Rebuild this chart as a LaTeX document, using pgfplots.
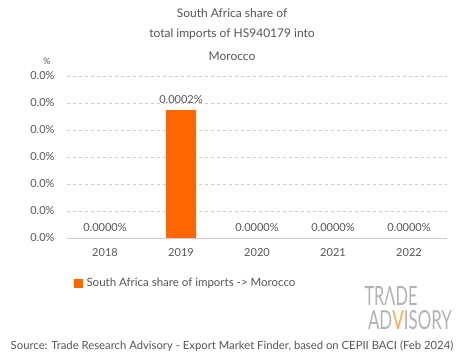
\documentclass[border=0pt]{standalone}
\usepackage{pgfplots}
\pgfplotsset{compat=1.18}
\usepackage{fontspec}
\setmainfont{Lato}
\definecolor{txt}{HTML}{555555}
\definecolor{bar}{HTML}{FF6600}
\definecolor{grd}{HTML}{CCCCCC}
\begin{document}
\begin{tikzpicture}[x=1pt,y=1pt]
\path[use as bounding box] (-67,-121) rectangle (398,238);
\begin{axis}[
  at={(0,0)}, anchor=south west,
  scale only axis, width=380pt, height=162pt,
  xmin=-0.5, xmax=4.5, ymin=0, ymax=0.0003,
  scaled y ticks=false,
  ytick={0,0.00005,0.0001,0.00015,0.0002,0.00025,0.0003},
  yticklabel={0.0\%},
  xtick={0,1,2,3,4},
  xticklabels={2018,2019,2020,2021,2022},
  axis line style={draw=none},
  axis x line*=bottom,
  major tick length=0pt,
  ymajorgrids, grid style={dashed, grd, line width=0.6pt},
  tick label style={font=\fontsize{11}{13}\selectfont, text=txt},
  yticklabel style={xshift=-9pt},
  xticklabel style={yshift=-7pt},
  ybar, bar width=30pt,
  clip=false,
  point meta=explicit symbolic,
  nodes near coords,
  every node near coord/.style={font=\fontsize{11}{13}\selectfont, text=txt, yshift=3pt},
]
\addplot[fill=bar, draw=none] table[meta=lab] {
x y lab
0 0 0.0000\%
1 0.000237 0.0002\%
2 0 0.0000\%
3 0 0.0000\%
4 0 0.0000\%
};
\draw[grd, line width=0.8pt] (rel axis cs:0,0) -- (rel axis cs:1,0);
\end{axis}
\begin{scope}[text=txt]
\node[font=\fontsize{12}{14}\selectfont] at (165,225) {South Africa share of};
\node[font=\fontsize{12}{14}\selectfont] at (165,204) {total imports of HS940179 into};
\node[font=\fontsize{12}{14}\selectfont] at (165,182) {Morocco};
\node[font=\fontsize{9}{10}\selectfont] at (-20,177) {\%};
\fill[bar] (7,-50) rectangle (16,-41);
\node[anchor=west, font=\fontsize{11.5}{13}\selectfont] at (16,-45) {South Africa share of imports -> Morocco};
\node[font=\fontsize{11.3}{13}\selectfont] at (165,-108) {Source: Trade Research Advisory - Export Market Finder, based on CEPII BACI (Feb 2024)};
\node[text=gray!60, inner sep=0] at (324,-58) {\resizebox{53pt}{19pt}{TRΛDE}};
\node[text=gray!60, inner sep=0] at (343,-82) {\resizebox{84pt}{19pt}{AD{\color{orange!70}V}ISORY}};
\end{scope}
\end{tikzpicture}
\end{document}
